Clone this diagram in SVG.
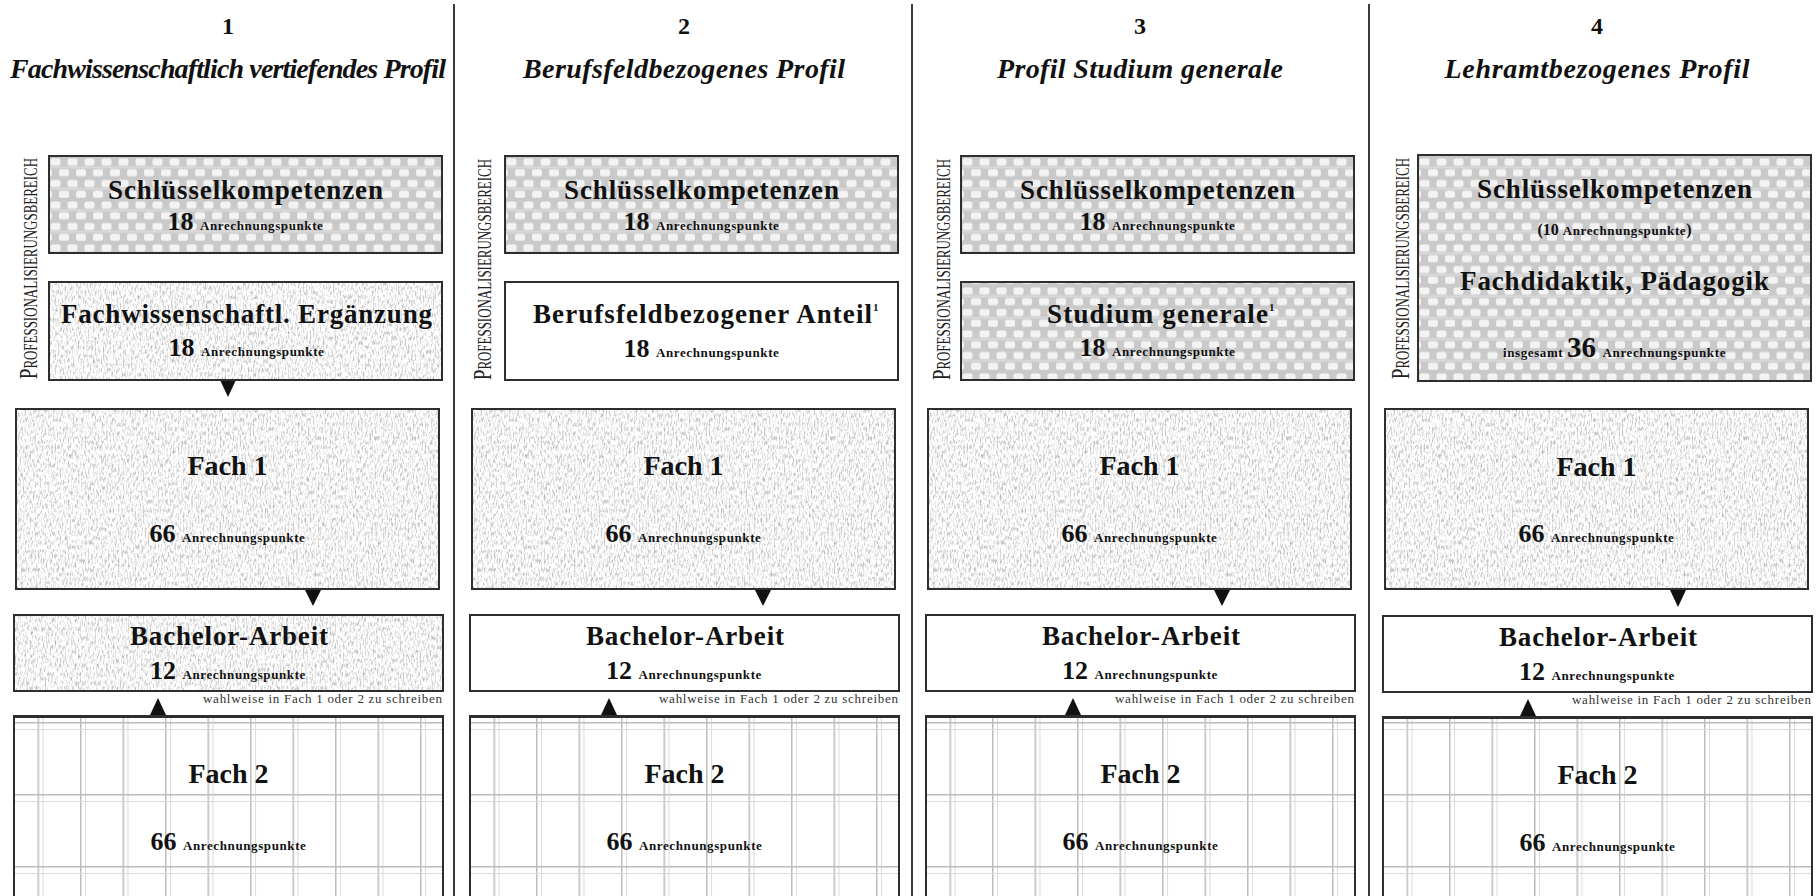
<svg xmlns="http://www.w3.org/2000/svg" width="1818" height="896" viewBox="0 0 1818 896">
<defs>
<style>
.t{font-family:"Liberation Serif","Times New Roman",serif;fill:#111}
.num{font-weight:bold;font-size:24px;text-anchor:middle}
.title{font-weight:bold;font-style:italic;font-size:28px;text-anchor:middle}
.lbl{font-weight:bold;font-size:27px;text-anchor:middle}
.f{font-weight:bold;font-size:28px;text-anchor:middle}
.pts{font-weight:bold;font-size:26px;text-anchor:middle}
.sm{font-size:13px;letter-spacing:0.6px}
.sup{font-weight:bold;font-size:11px}
.note{font-size:13px;text-anchor:end;fill:#333}
.side{font-size:18px;fill:#222}
.box{fill:none;stroke:#2e2e2e;stroke-width:2}
.white{fill:#fff;stroke:#2e2e2e;stroke-width:2}
.div{stroke:#3a3a3a;stroke-width:2}
.arr{fill:#111}
</style>
<pattern id="weave" patternUnits="userSpaceOnUse" x="49" y="157" width="17" height="21.5">
<rect width="17" height="21.5" fill="#c9c9c9"/>
<rect x="0" y="9.3" width="17" height="2" fill="#dadada"/>
<rect x="1.5" y="1.5" width="10" height="7" rx="2" fill="#f3f3f3"/>
<rect x="10" y="12.3" width="10" height="7" rx="2" fill="#f3f3f3"/>
<rect x="-7" y="12.3" width="10" height="7" rx="2" fill="#f3f3f3"/>
</pattern>
<pattern id="grid" patternUnits="userSpaceOnUse" x="37.5" y="722" width="42.5" height="72">
<rect width="42.5" height="72" fill="#fff"/>
<rect x="0" y="0" width="1.5" height="72" fill="#bcbcbc"/>
<rect x="5" y="0" width="1" height="72" fill="#dadada"/>
<rect x="0" y="0" width="42.5" height="1.5" fill="#bcbcbc"/>
<rect x="0" y="7" width="42.5" height="1" fill="#dadada"/>
</pattern>
<filter id="speck" x="0" y="0" width="1" height="1" color-interpolation-filters="sRGB">
<feTurbulence type="fractalNoise" baseFrequency="0.6 0.22" numOctaves="3" seed="4" result="n"/>
<feColorMatrix in="n" type="matrix" values="0.7 0 0 0 0.61  0.7 0 0 0 0.61  0.7 0 0 0 0.61  0 0 0 0 1" result="g"/>
<feComposite in="g" in2="SourceGraphic" operator="in"/>
</filter>
</defs>
<rect width="1818" height="896" fill="#fff"/>

<g id="dividers">
<line class="div" x1="454" y1="4" x2="454" y2="896"/>
<line class="div" x1="912" y1="4" x2="912" y2="896"/>
<line class="div" x1="1369" y1="4" x2="1369" y2="896"/>
</g>

<!-- Column 1 -->
<g id="col1">
<g id="c1-head">
<text class="t num" x="228" y="34">1</text>
<text class="t title" x="228" y="78" textLength="436">Fachwissenschaftlich vertiefendes Profil</text>
</g>
<g id="c1-side"><text class="t side" transform="translate(37,379) rotate(-90)" textLength="221" lengthAdjust="spacingAndGlyphs"><tspan font-size="26">P</tspan>ROFESSIONALISIERUNGSBEREICH</text></g>
<g id="c1-schluessel">
<rect x="49" y="156" width="393" height="97" fill="url(#weave)"/>
<rect class="box" x="49" y="156" width="393" height="97"/>
<text class="t lbl" x="245.5" y="199" textLength="275">Schlüsselkompetenzen</text>
<text class="t pts" x="245.5" y="230">18 <tspan class="sm">Anrechnungspunkte</tspan></text>
</g>
<g id="c1-ergaenzung">
<rect x="49" y="282" width="393" height="98" fill="#fff" filter="url(#speck)"/>
<rect class="box" x="49" y="282" width="393" height="98"/>
<text class="t lbl" x="246.5" y="323" textLength="371">Fachwissenschaftl. Ergänzung</text>
<text class="t pts" x="246.5" y="356">18 <tspan class="sm">Anrechnungspunkte</tspan></text>
</g>
<g id="c1-fach1">
<rect x="16" y="409" width="423" height="180" fill="#fff" filter="url(#speck)"/>
<rect class="box" x="16" y="409" width="423" height="180"/>
<text class="t f" x="227.5" y="475">Fach 1</text>
<text class="t pts" x="227.5" y="542">66 <tspan class="sm">Anrechnungspunkte</tspan></text>
</g>
<g id="c1-bachelor">
<rect x="14" y="615" width="429" height="76" fill="#fff" filter="url(#speck)"/>
<rect class="box" x="14" y="615" width="429" height="76"/>
<text class="t lbl" x="229" y="645" textLength="198">Bachelor-Arbeit</text>
<text class="t pts" x="228" y="679">12 <tspan class="sm">Anrechnungspunkte</tspan></text>
<text class="t note" x="442" y="703" textLength="239">wahlweise in Fach 1 oder 2 zu schreiben</text>
</g>
<g id="c1-fach2">
<rect x="14" y="716" width="429" height="190" fill="url(#grid)"/>
<rect class="box" x="14" y="716" width="429" height="190"/>
<line x1="13" y1="716.5" x2="444" y2="716.5" stroke="#2e2e2e" stroke-width="3"/>
<text class="t f" x="228.5" y="783">Fach 2</text>
<text class="t pts" x="228.5" y="850">66 <tspan class="sm">Anrechnungspunkte</tspan></text>
</g>
</g>

<!-- Column 2 -->
<g id="col2" transform="translate(456,0)">
<g id="c2-head">
<text class="t num" x="228" y="34">2</text>
<text class="t title" x="228" y="78" textLength="322">Berufsfeldbezogenes Profil</text>
</g>
<g id="c2-side"><text class="t side" transform="translate(35,380) rotate(-90)" textLength="221" lengthAdjust="spacingAndGlyphs"><tspan font-size="26">P</tspan>ROFESSIONALISIERUNGSBEREICH</text></g>
<g id="c2-schluessel">
<rect x="49" y="156" width="393" height="97" fill="url(#weave)"/>
<rect class="box" x="49" y="156" width="393" height="97"/>
<text class="t lbl" x="245.5" y="199" textLength="275">Schlüsselkompetenzen</text>
<text class="t pts" x="245.5" y="230">18 <tspan class="sm">Anrechnungspunkte</tspan></text>
</g>
<g id="c2-berufsfeld">
<rect class="white" x="49" y="282" width="393" height="98"/>
<text class="t lbl" x="246.5" y="323" textLength="339">Berufsfeldbezogener Anteil</text>
<text class="t sup" x="417" y="311">1</text>
<text class="t pts" x="245.5" y="357">18 <tspan class="sm">Anrechnungspunkte</tspan></text>
</g>
<g id="c2-fach1">
<rect x="16" y="409" width="423" height="180" fill="#fff" filter="url(#speck)"/>
<rect class="box" x="16" y="409" width="423" height="180"/>
<text class="t f" x="227.5" y="475">Fach 1</text>
<text class="t pts" x="227.5" y="542">66 <tspan class="sm">Anrechnungspunkte</tspan></text>
</g>
<g id="c2-bachelor">
<rect class="white" x="14" y="615" width="429" height="76"/>
<text class="t lbl" x="229" y="645" textLength="198">Bachelor-Arbeit</text>
<text class="t pts" x="228" y="679">12 <tspan class="sm">Anrechnungspunkte</tspan></text>
<text class="t note" x="442" y="703" textLength="239">wahlweise in Fach 1 oder 2 zu schreiben</text>
</g>
<g id="c2-fach2">
<rect x="14" y="716" width="429" height="190" fill="url(#grid)"/>
<rect class="box" x="14" y="716" width="429" height="190"/>
<line x1="13" y1="716.5" x2="444" y2="716.5" stroke="#2e2e2e" stroke-width="3"/>
<text class="t f" x="228.5" y="783">Fach 2</text>
<text class="t pts" x="228.5" y="850">66 <tspan class="sm">Anrechnungspunkte</tspan></text>
</g>
</g>

<!-- Column 3 -->
<g id="col3" transform="translate(912,0)">
<g id="c3-head">
<text class="t num" x="228" y="34">3</text>
<text class="t title" x="228" y="78" textLength="286">Profil Studium generale</text>
</g>
<g id="c3-side"><text class="t side" transform="translate(38,380) rotate(-90)" textLength="221" lengthAdjust="spacingAndGlyphs"><tspan font-size="26">P</tspan>ROFESSIONALISIERUNGSBEREICH</text></g>
<g id="c3-schluessel">
<rect x="49" y="156" width="393" height="97" fill="url(#weave)"/>
<rect class="box" x="49" y="156" width="393" height="97"/>
<text class="t lbl" x="245.5" y="199" textLength="275">Schlüsselkompetenzen</text>
<text class="t pts" x="245.5" y="230">18 <tspan class="sm">Anrechnungspunkte</tspan></text>
</g>
<g id="c3-studium">
<rect x="49" y="282" width="393" height="98" fill="url(#weave)"/>
<rect class="box" x="49" y="282" width="393" height="98"/>
<text class="t lbl" x="245.5" y="323" textLength="221">Studium generale</text>
<text class="t sup" x="357" y="311">1</text>
<text class="t pts" x="245.5" y="356">18 <tspan class="sm">Anrechnungspunkte</tspan></text>
</g>
<g id="c3-fach1">
<rect x="16" y="409" width="423" height="180" fill="#fff" filter="url(#speck)"/>
<rect class="box" x="16" y="409" width="423" height="180"/>
<text class="t f" x="227.5" y="475">Fach 1</text>
<text class="t pts" x="227.5" y="542">66 <tspan class="sm">Anrechnungspunkte</tspan></text>
</g>
<g id="c3-bachelor">
<rect class="white" x="14" y="615" width="429" height="76"/>
<text class="t lbl" x="229" y="645" textLength="198">Bachelor-Arbeit</text>
<text class="t pts" x="228" y="679">12 <tspan class="sm">Anrechnungspunkte</tspan></text>
<text class="t note" x="442" y="703" textLength="239">wahlweise in Fach 1 oder 2 zu schreiben</text>
</g>
<g id="c3-fach2">
<rect x="14" y="716" width="429" height="190" fill="url(#grid)"/>
<rect class="box" x="14" y="716" width="429" height="190"/>
<line x1="13" y1="716.5" x2="444" y2="716.5" stroke="#2e2e2e" stroke-width="3"/>
<text class="t f" x="228.5" y="783">Fach 2</text>
<text class="t pts" x="228.5" y="850">66 <tspan class="sm">Anrechnungspunkte</tspan></text>
</g>
</g>

<!-- Column 4 -->
<g id="col4" transform="translate(1369,0)">
<g id="c4-head">
<text class="t num" x="228" y="34">4</text>
<text class="t title" x="228" y="78" textLength="305">Lehramtbezogenes Profil</text>
</g>
<g id="c4-side"><text class="t side" transform="translate(40,379) rotate(-90)" textLength="221" lengthAdjust="spacingAndGlyphs"><tspan font-size="26">P</tspan>ROFESSIONALISIERUNGSBEREICH</text></g>
<g id="c4-schluessel">
<rect x="49" y="155" width="393" height="226" fill="url(#weave)"/>
<rect class="box" x="49" y="155" width="393" height="226"/>
<text class="t lbl" x="245.5" y="198" textLength="275">Schlüsselkompetenzen</text>
<text class="t pts" x="245.5" y="235"><tspan font-size="16">(10 </tspan><tspan class="sm">Anrechnungspunkte</tspan><tspan font-size="16">)</tspan></text>
<text class="t lbl" x="245.5" y="290" textLength="309">Fachdidaktik, Pädagogik</text>
<text class="t pts" x="245.5" y="357"><tspan class="sm">insgesamt </tspan><tspan font-size="29">36</tspan> <tspan class="sm">Anrechnungspunkte</tspan></text>
</g>
<g id="c4-fach1">
<rect x="16" y="409" width="423" height="180" fill="#fff" filter="url(#speck)"/>
<rect class="box" x="16" y="409" width="423" height="180"/>
<text class="t f" x="227.5" y="476">Fach 1</text>
<text class="t pts" x="227.5" y="542">66 <tspan class="sm">Anrechnungspunkte</tspan></text>
</g>
<g id="c4-bachelor">
<rect class="white" x="14" y="616" width="429" height="76"/>
<text class="t lbl" x="229" y="646" textLength="198">Bachelor-Arbeit</text>
<text class="t pts" x="228" y="680">12 <tspan class="sm">Anrechnungspunkte</tspan></text>
<text class="t note" x="442" y="704" textLength="239">wahlweise in Fach 1 oder 2 zu schreiben</text>
</g>
<g id="c4-fach2">
<rect x="14" y="717" width="429" height="190" fill="url(#grid)"/>
<rect class="box" x="14" y="717" width="429" height="190"/>
<line x1="13" y1="717.5" x2="444" y2="717.5" stroke="#2e2e2e" stroke-width="3"/>
<text class="t f" x="228.5" y="784">Fach 2</text>
<text class="t pts" x="228.5" y="851">66 <tspan class="sm">Anrechnungspunkte</tspan></text>
</g>
</g>

<g id="connectors">
<polygon class="arr" points="220.5,381 235.5,381 228,397"/>
<polygon class="arr" points="305,590 321,590 313,606"/>
<polygon class="arr" points="150,715 166,715 158,698"/>
<polygon class="arr" points="755,590 771,590 763,606"/>
<polygon class="arr" points="601,715 617,715 609,698"/>
<polygon class="arr" points="1214,590 1230,590 1222,606"/>
<polygon class="arr" points="1065,715 1081,715 1073,698"/>
<polygon class="arr" points="1670,590 1686,590 1678,607"/>
<polygon class="arr" points="1520,716 1536,716 1528,699"/>
</g>
</svg>
